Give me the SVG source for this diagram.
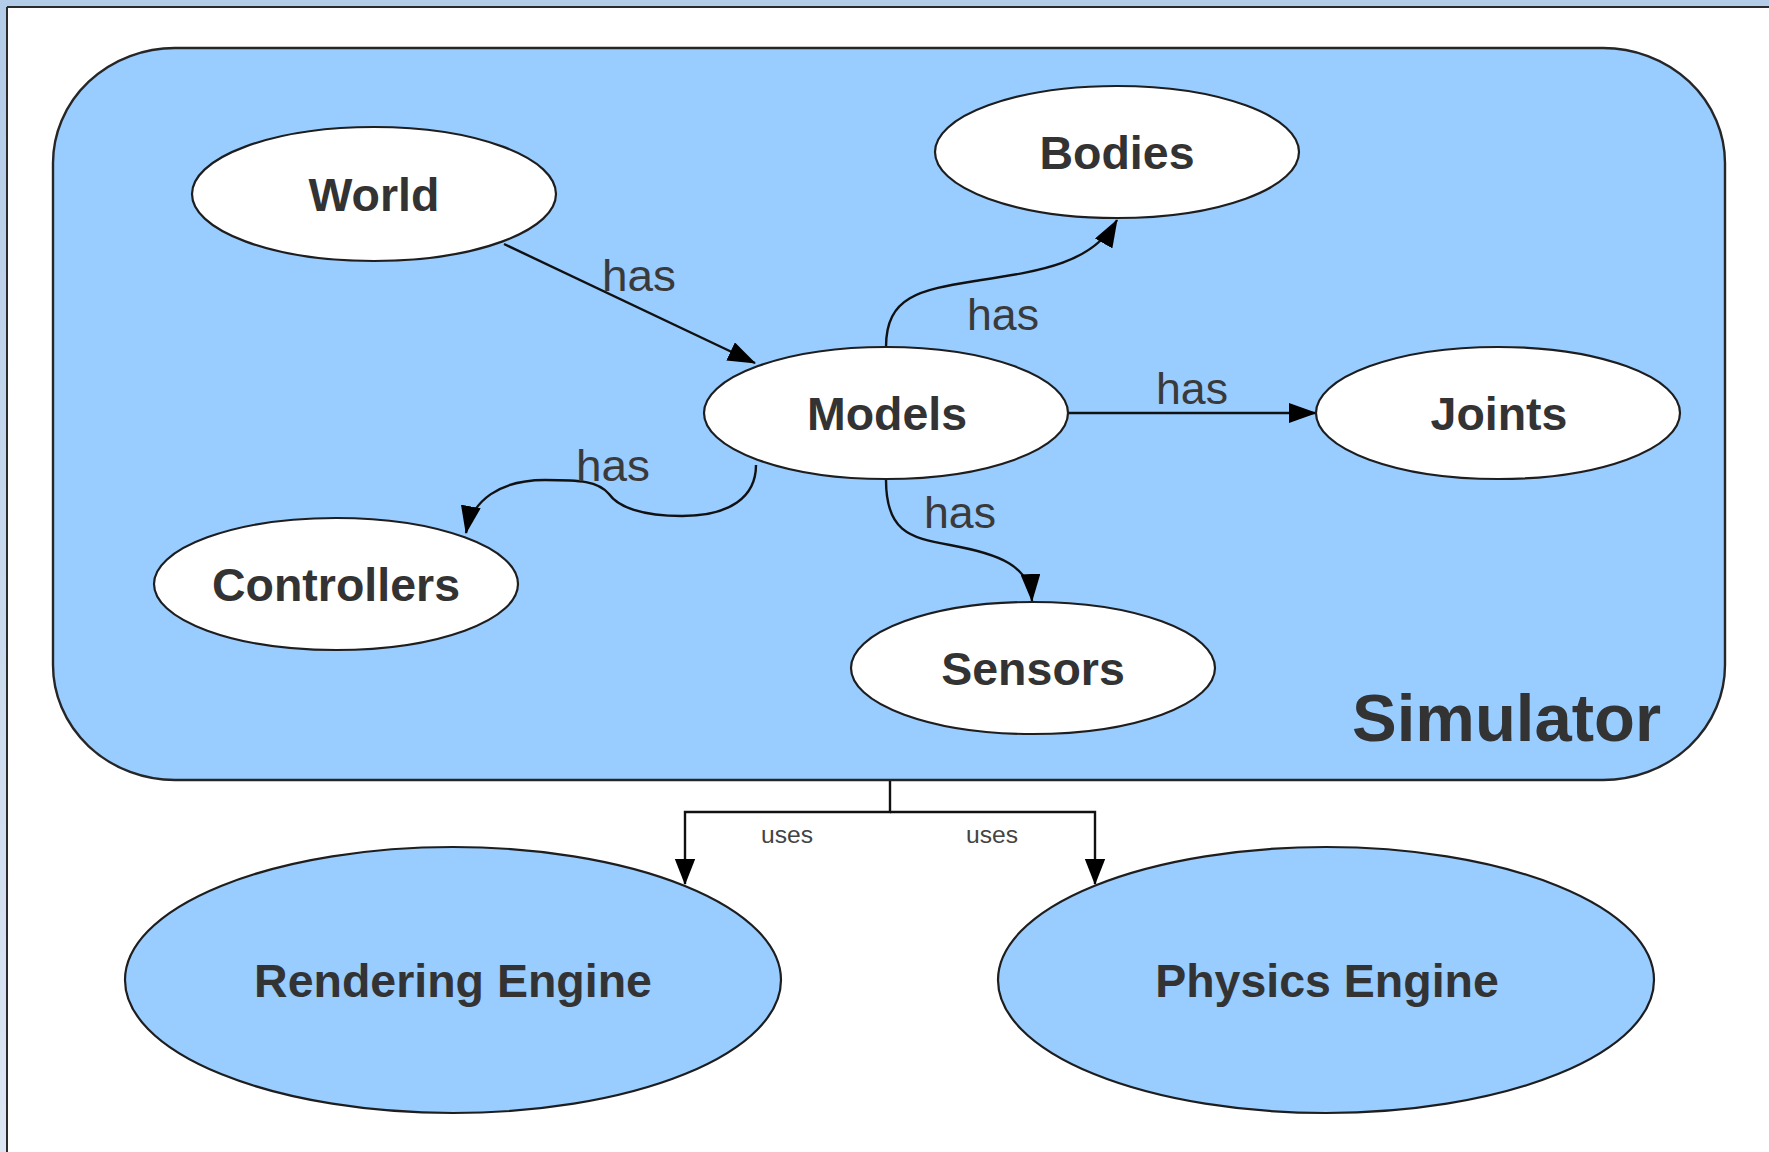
<svg xmlns="http://www.w3.org/2000/svg" width="1769" height="1152" viewBox="0 0 1769 1152">
<defs>
<linearGradient id="side" x1="0" y1="0" x2="0" y2="1">
<stop offset="0" stop-color="#b3cce8"/>
<stop offset="1" stop-color="#dde6f3"/>
</linearGradient>
<marker id="arr" viewBox="0 0 28 20" markerUnits="userSpaceOnUse" markerWidth="28" markerHeight="20" refX="27" refY="10" orient="auto">
<path d="M0,0 L28,10 L0,20 z" fill="#000"/>
</marker>
<marker id="arrS" viewBox="0 0 28 22" markerUnits="userSpaceOnUse" markerWidth="26" markerHeight="22" refX="27" refY="11" orient="auto">
<path d="M0,0 L28,11 L0,22 z" fill="#000"/>
</marker>
</defs>
<style>
.node ellipse{fill:#ffffff;stroke:#1e1e1e;stroke-width:2.2}
.eng ellipse{fill:#99ccff;stroke:#1e1e1e;stroke-width:2.2}
.lbl{font-family:"Liberation Sans",Arial,sans-serif;font-weight:bold;font-size:46.5px;fill:#333333;text-anchor:middle}
.has{font-family:"Liberation Sans Narrow","Liberation Sans",Arial,sans-serif;font-size:44px;fill:#3a3a3a}
.uses{font-family:"Liberation Sans",Arial,sans-serif;font-size:23px;fill:#444444}
.edge{fill:none;stroke:#111;stroke-width:2.4}
</style>
<rect x="0" y="0" width="1769" height="1152" fill="#ffffff"/>
<rect x="0" y="0" width="8" height="1152" fill="url(#side)"/>
<rect x="0" y="0" width="1769" height="7" fill="#b3cce8"/>
<line x1="7" y1="7" x2="1769" y2="7" stroke="#2b2b2b" stroke-width="2"/>
<line x1="7" y1="7" x2="7" y2="1152" stroke="#2b2b2b" stroke-width="2"/>

<g id="simulator">
<rect x="53" y="48" width="1672" height="732" rx="122" ry="115" fill="#99ccff" stroke="#262626" stroke-width="2.4"/>
<text x="1661" y="741" font-family="'Liberation Sans',Arial,sans-serif" font-weight="bold" font-size="67" fill="#333333" text-anchor="end">Simulator</text>
</g>

<g id="connectors">
<line class="edge" x1="504" y1="244" x2="755" y2="363" marker-end="url(#arr)"/>
<path class="edge" d="M886,347 C886,296 920,290 975,281 C1040,271 1092,264 1117,220" marker-end="url(#arr)"/>
<line class="edge" x1="1067" y1="413" x2="1316" y2="413" marker-end="url(#arr)"/>
<path class="edge" d="M756,465 C756,497 730,516 682,516 C642,516 618,507 609,494 C598,481 580,480 545,480 C500,480 472,500 466,533" marker-end="url(#arr)"/>
<path class="edge" d="M886,480 C886,530 908,538 950,545 C1000,554 1030,566 1032,601" marker-end="url(#arr)"/>
<polyline class="edge" points="890,781 890,812 685,812 685,884" marker-end="url(#arrS)"/>
<polyline class="edge" points="890,812 1095,812 1095,884" marker-end="url(#arrS)"/>
<text class="has" x="602" y="291" textLength="74" lengthAdjust="spacingAndGlyphs">has</text>
<text class="has" x="967" y="330" textLength="72" lengthAdjust="spacingAndGlyphs">has</text>
<text class="has" x="1156" y="404" textLength="72" lengthAdjust="spacingAndGlyphs">has</text>
<text class="has" x="576" y="481" textLength="74" lengthAdjust="spacingAndGlyphs">has</text>
<text class="has" x="924" y="528" textLength="72" lengthAdjust="spacingAndGlyphs">has</text>
<text class="uses" x="761" y="843" textLength="52" lengthAdjust="spacingAndGlyphs">uses</text>
<text class="uses" x="966" y="843" textLength="52" lengthAdjust="spacingAndGlyphs">uses</text>
</g>

<g id="world" class="node"><ellipse cx="374" cy="194" rx="182" ry="67"/><text class="lbl" x="374" y="211">World</text></g>
<g id="bodies" class="node"><ellipse cx="1117" cy="152" rx="182" ry="66"/><text class="lbl" x="1117" y="169">Bodies</text></g>
<g id="models" class="node"><ellipse cx="886" cy="413" rx="182" ry="66"/><text class="lbl" x="887" y="430">Models</text></g>
<g id="joints" class="node"><ellipse cx="1498" cy="413" rx="182" ry="66"/><text class="lbl" x="1499" y="430">Joints</text></g>
<g id="controllers" class="node"><ellipse cx="336" cy="584" rx="182" ry="66"/><text class="lbl" x="336" y="601">Controllers</text></g>
<g id="sensors" class="node"><ellipse cx="1033" cy="668" rx="182" ry="66"/><text class="lbl" x="1033" y="685">Sensors</text></g>
<g id="rendering-engine" class="eng"><ellipse cx="453" cy="980" rx="328" ry="133"/><text class="lbl" x="453" y="997">Rendering Engine</text></g>
<g id="physics-engine" class="eng"><ellipse cx="1326" cy="980" rx="328" ry="133"/><text class="lbl" x="1327" y="997">Physics Engine</text></g>
</svg>
